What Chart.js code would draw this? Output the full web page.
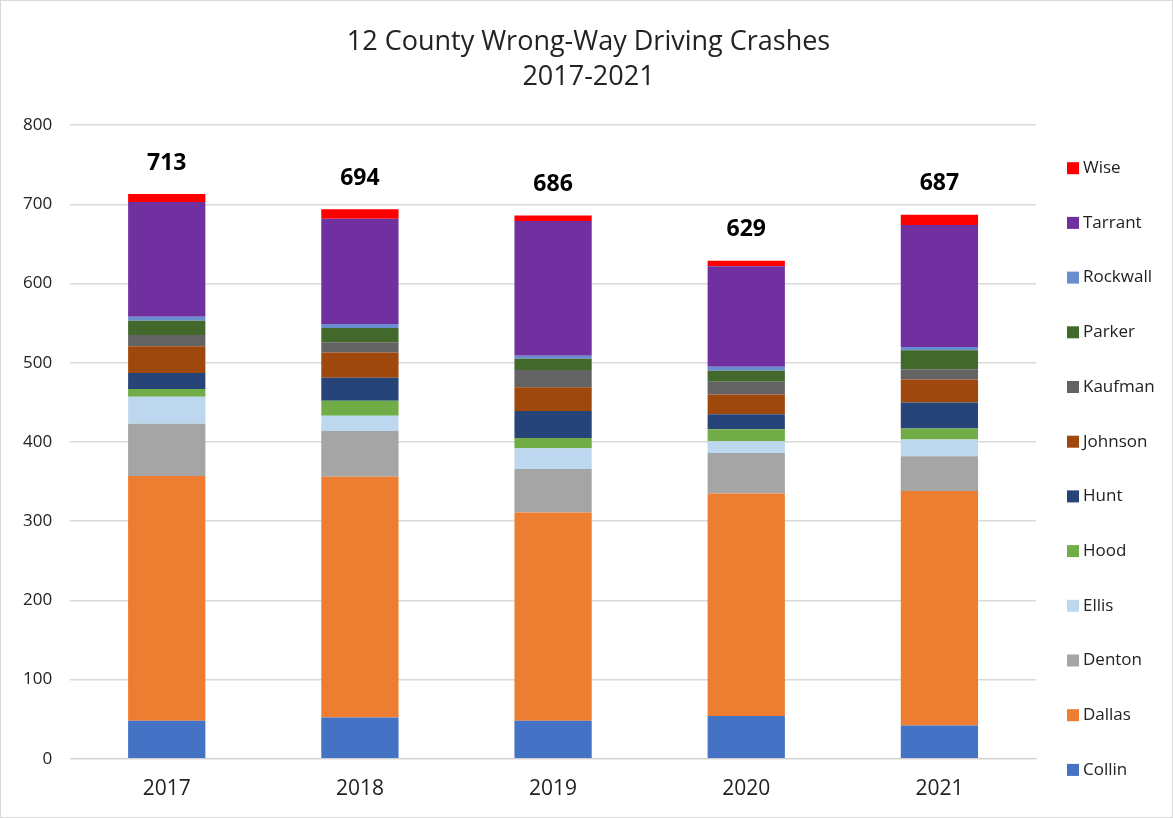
<!DOCTYPE html>
<html>
<head>
<meta charset="utf-8">
<script src="https://cdn.jsdelivr.net/npm/chart.js@4.4.0/dist/chart.umd.min.js"></script>
<style>
  body { margin: 0; background: #fff; }
  #wrap { width: 1173px; height: 818px; position: relative; box-sizing: border-box; border: 1px solid #d9d9d9; }
</style>
</head>
<body>
<div id="wrap"><canvas id="crashChart" width="1171" height="816"></canvas></div>
<script>
// years on the x axis
const years = ['2017', '2018', '2019', '2020', '2021'];
const yTicks = [0, 100, 200, 300, 400, 500, 600, 700, 800];

// crashes per county, stacked bottom to top
const collin   = [48, 52, 48, 54, 42];
const dallas   = [309, 304, 263, 281, 296];
const denton   = [66, 58, 55, 51, 44];
const ellis    = [34, 19, 26, 15, 21];
const hood     = [10, 19, 13, 15, 14];
const hunt     = [20, 29, 34, 19, 33];
const johnson  = [34, 32, 30, 25, 29];
const kaufman  = [14, 13, 22, 16, 13];
const parker   = [18, 18, 14, 14, 24];
const rockwall = [5, 5, 4, 5, 4];
const tarrant  = [145, 133, 170, 127, 154];
const wise     = [10, 12, 7, 7, 13];

const counties = ['Collin', 'Dallas', 'Denton', 'Ellis', 'Hood', 'Hunt', 'Johnson', 'Kaufman', 'Parker', 'Rockwall', 'Tarrant', 'Wise'];
const values = [collin, dallas, denton, ellis, hood, hunt, johnson, kaufman, parker, rockwall, tarrant, wise];
const colors = ['#4472C4', '#ED7D31', '#A5A5A5', '#BDD7EE', '#70AD47', '#264478', '#9E480E', '#636363', '#43682B', '#698ED0', '#7030A0', '#FF0000'];

const FONT = "'Open Sans', 'Noto Sans', sans-serif";

// totals written above each stack
const totalsPlugin = {
    id: 'totals',
    afterDatasetsDraw(chart) {
        const ctx = chart.ctx;
        const yScale = chart.scales.y;
        const lastMeta = chart.getDatasetMeta(chart.data.datasets.length - 1);
        ctx.save();
        ctx.font = "bold 23px " + FONT;
        ctx.fillStyle = '#000';
        ctx.textAlign = 'center';
        ctx.textBaseline = 'middle';
        years.forEach((y, i) => {
            let total = 0;
            values.forEach(v => total += v[i]);
            const x = lastMeta.data[i].x;
            ctx.fillText(total, x, yScale.getPixelForValue(total) - 31);
        });
        ctx.restore();
    }
};

// legend on the right, Wise on top down to Collin (built-in one runs out of room)
const sideLegend = {
    id: 'sideLegend',
    afterDraw(chart) {
        const ctx = chart.ctx;
        const sets = chart.data.datasets;
        const left = chart.chartArea.right + 31;
        const top = chart.chartArea.top + 43;
        const step = 54.7;
        ctx.save();
        ctx.font = "17px " + FONT;
        ctx.textBaseline = 'middle';
        ctx.textAlign = 'left';
        for (let k = sets.length - 1, n = 0; k >= 0; k--, n++) {
            const y = top + n * step;
            ctx.fillStyle = sets[k].backgroundColor;
            ctx.fillRect(left, y - 6, 12, 12);
            ctx.fillStyle = '#222';
            ctx.fillText(sets[k].label, left + 16, y);
        }
        ctx.restore();
    }
};

new Chart('crashChart', {
    type: 'bar',
    data: {
        labels: years,
        datasets: counties.map((c, k) => ({
            label: c,
            data: values[k],
            backgroundColor: colors[k],
            borderWidth: 0,
            barPercentage: 0.8,
            categoryPercentage: 0.5
        }))
    },
    options: {
        responsive: false,
        animation: false,
        layout: { padding: { left: 4, right: 0, top: 0, bottom: 5 } },
        plugins: {
            title: {
                display: true,
                text: ['12 County Wrong-Way Driving Crashes', '2017-2021'],
                color: '#222',
                font: { family: FONT, size: 27, weight: 'normal', lineHeight: 1.3 },
                padding: { top: 24, bottom: 30 }
            },
            legend: { display: false },
            tooltip: { enabled: false }
        },
        scales: {
            x: {
                stacked: true,
                grid: { display: false },
                border: { color: '#d0d0d0' },
                ticks: { color: '#222', font: { family: FONT, size: 21 }, padding: 10 }
            },
            y: {
                stacked: true,
                min: 0,
                max: 800,
                afterBuildTicks(axis) { axis.ticks = yTicks.map(v => ({ value: v })); },
                grid: { color: '#d9d9d9', lineWidth: 1.5, drawTicks: false },
                border: { display: false },
                ticks: { color: '#222', font: { family: FONT, size: 17 }, padding: 18 }
            },
            // empty axis that only keeps room for the legend on the right
            legendRoom: {
                type: 'linear',
                position: 'right',
                min: 0,
                max: 1,
                grid: { display: false },
                border: { display: false },
                ticks: { display: false },
                afterFit(axis) { axis.width = 136; }
            }
        }
    },
    plugins: [totalsPlugin, sideLegend]
});
</script>
</body>
</html>
